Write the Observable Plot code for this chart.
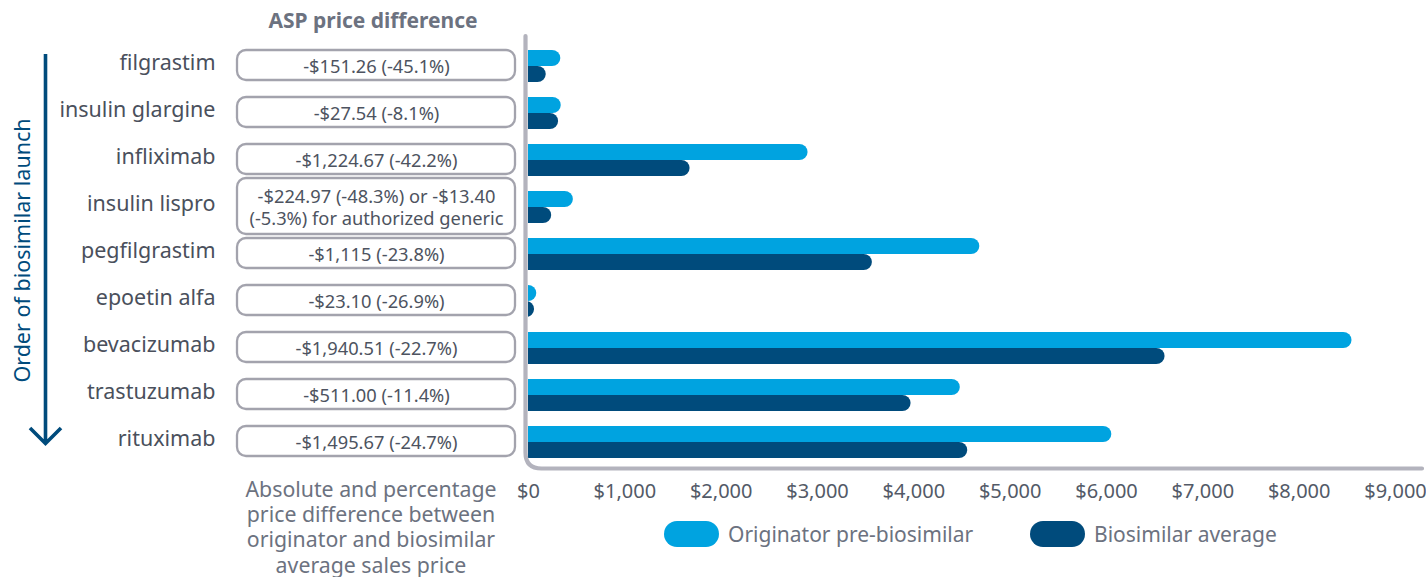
<!DOCTYPE html>
<html><head><meta charset="utf-8">
<script src="https://cdn.jsdelivr.net/npm/d3@7"></script>
<script src="https://cdn.jsdelivr.net/npm/@observablehq/plot@0.6"></script>
<style>body{margin:0;background:#fff;font-family:"Noto Sans",sans-serif}</style>
</head><body><div id="chart"></div>
<script>
const drugs = ["filgrastim", "insulin glargine", "infliximab", "insulin lispro", "pegfilgrastim", "epoetin alfa", "bevacizumab", "trastuzumab", "rituximab"];
const originator = [335.4, 340.0, 2902.1, 465.8, 4684.9, 85.9, 8548.5, 4482.5, 6055.3];
const biosimilar = [184.1, 312.5, 1677.4, 240.8, 3569.9, 62.8, 6608.0, 3971.5, 4559.6];
const priceDiff = ["-$151.26 (-45.1%)", "-$27.54 (-8.1%)", "-$1,224.67 (-42.2%)", "-$224.97 (-48.3%) or -$13.40\n(-5.3%) for authorized generic", "-$1,115 (-23.8%)", "-$23.10 (-26.9%)", "-$1,940.51 (-22.7%)", "-$511.00 (-11.4%)", "-$1,495.67 (-24.7%)"];
const series = ["Originator pre-biosimilar", "Biosimilar average"];
const seriesColors = ["#00a3e0", "#004b7c"];
const xTicks = [0, 1000, 2000, 3000, 4000, 5000, 6000, 7000, 8000, 9000];
const title = "ASP price difference";
const sideLabel = "Order of biosimilar launch";
const footnote = ["Absolute and percentage", "price difference between", "originator and biosimilar", "average sales price"];

const rows = drugs.flatMap((d, i) => [
  {drug: d, series: series[0], value: originator[i]},
  {drug: d, series: series[1], value: biosimilar[i]}
]);
const diffRows = drugs.map((d, i) => ({drug: d, diff: priceDiff[i]}));

const plot = Plot.plot({
  width: 1426, height: 577,
  marginLeft: 528, marginRight: 31, marginTop: 39, marginBottom: 110,
  style: {fontFamily: "Noto Sans", fontSize: "20px", color: "#535a67", background: "white", overflow: "visible"},
  x: {domain: [0, 9000], ticks: xTicks, tickFormat: d3.format("$,"), tickSize: 0, tickPadding: 25, label: null},
  y: {domain: series, padding: 0, axis: null},
  fy: {domain: drugs, paddingInner: 0.3, paddingOuter: 0.15, axis: null, label: null},
  color: {domain: series, range: seriesColors},
  marks: [
    Plot.barX(rows, {fy: "drug", y: "series", x1: d => 0, x2: "value", fill: "series", rx: 8.3, insetLeft: -14, clip: true}),
    Plot.text(drugs, {fy: d => d, text: d => d, frameAnchor: "left", dx: -313, dy: -2.5, textAnchor: "end", fontSize: 21.5, fill: "#4a505c"}),
    Plot.text(diffRows, {fy: "drug", text: "diff", frameAnchor: "left", dx: -152, dy: -0.5, textAnchor: "middle", fontSize: 18.3, fill: "#4d5360", lineHeight: 1.2})
  ]
});
document.getElementById("chart").appendChild(plot);

const svg = d3.select(plot);
const xs = plot.scale("x"), fys = plot.scale("fy");
const x0 = xs.apply(0);
const bw = fys.bandwidth;
const rangeBottom = fys.range[1];

const deco = svg.append("g").attr("font-family", "Noto Sans").attr("text-anchor", "start");

// price difference boxes
drugs.forEach((d, i) => {
  const cy = fys.apply(d) + bw / 2 - 0.5;
  const lines = priceDiff[i].split("\n").length;
  const h = lines === 1 ? 30 : 56;
  deco.append("rect")
    .attr("x", x0 - 291).attr("width", 278)
    .attr("y", cy - h / 2).attr("height", h)
    .attr("rx", 9).attr("fill", "none")
    .attr("stroke", "#a3a3ad").attr("stroke-width", 2.3);
});

// L-shaped axis with rounded corner
const vx = x0 - 2.5, by = rangeBottom + 1.5, r = 16;
deco.append("path")
  .attr("d", `M${vx},36 V${by - r} Q${vx},${by} ${vx + r},${by} H${xs.apply(9000) + 27}`)
  .attr("fill", "none").attr("stroke", "#b3b3bd").attr("stroke-width", 4.2).attr("stroke-linecap", "round");

// title
deco.append("text").attr("x", x0 - 155).attr("y", 20).attr("text-anchor", "middle").attr("dominant-baseline", "central")
  .attr("font-weight", "bold").attr("font-size", 21).attr("fill", "#6c7280").text(title);

// side label + arrow
deco.append("text").attr("transform", "translate(21,250.5) rotate(-90)").attr("text-anchor", "middle").attr("dominant-baseline", "central")
  .attr("font-size", 21.5).attr("fill", "#004b7c").text(sideLabel);
deco.append("path").attr("d", "M45.5,54 V443 M30,428 L45.5,443.5 L61,428")
  .attr("fill", "none").attr("stroke", "#004b7c").attr("stroke-width", 3.6);

// footnote (one text block, four lines)
const fn = deco.append("text").attr("x", x0 - 157).attr("y", 497).attr("text-anchor", "middle")
  .attr("font-size", 21.3).attr("fill", "#6c7280");
footnote.forEach((t, i) => {
  fn.append("tspan").attr("x", x0 - 157).attr("dy", i === 0 ? 0 : 25.2).text(t);
});

// legend
const legX = [664, 1030];
series.forEach((s, i) => {
  deco.append("rect").attr("x", legX[i]).attr("y", 521).attr("width", 55).attr("height", 26).attr("rx", 13).attr("fill", seriesColors[i]);
  deco.append("text").attr("x", legX[i] + 64).attr("y", 534).attr("dominant-baseline", "central").attr("text-anchor", "start")
    .attr("font-size", 21).attr("fill", "#6c7280").text(s);
});
</script></body></html>
